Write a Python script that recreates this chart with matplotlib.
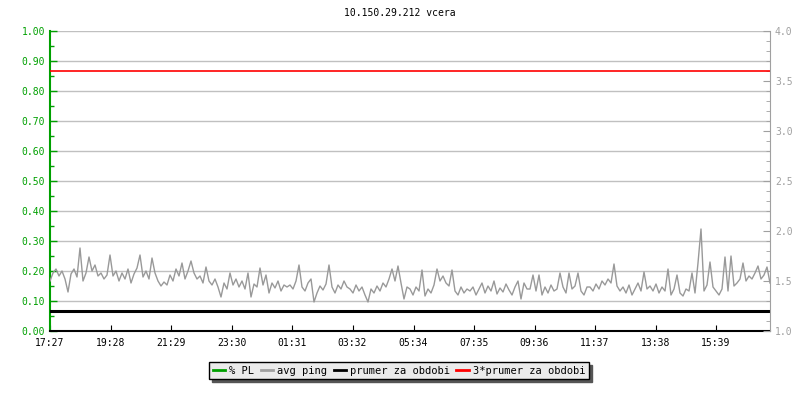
import matplotlib
matplotlib.use('Agg')
import matplotlib.pyplot as plt
from matplotlib.ticker import MultipleLocator, FuncFormatter

# avg ping, every ~6 min (right axis units)
ping = [
    1.50, 1.58, 1.62, 1.55, 1.60, 1.52, 1.39, 1.57, 1.62, 1.54, 1.83, 1.50, 1.58, 1.74, 1.60, 1.66, 1.55, 1.58, 1.52, 1.56,
    1.76, 1.55, 1.60, 1.50, 1.58, 1.52, 1.62, 1.48, 1.57, 1.63, 1.76, 1.54, 1.60, 1.52, 1.73, 1.58, 1.50, 1.45, 1.49, 1.46,
    1.56, 1.50, 1.62, 1.55, 1.68, 1.52, 1.60, 1.70, 1.58, 1.52, 1.55, 1.48, 1.64, 1.50, 1.46, 1.52, 1.44, 1.34, 1.48, 1.42,
    1.58, 1.46, 1.52, 1.44, 1.50, 1.42, 1.58, 1.34, 1.47, 1.44, 1.63, 1.46, 1.56, 1.38, 1.48, 1.43, 1.50, 1.40, 1.46, 1.44,
    1.46, 1.42, 1.50, 1.66, 1.44, 1.40, 1.48, 1.52, 1.29, 1.38, 1.45, 1.41, 1.47, 1.66, 1.44, 1.38, 1.46, 1.42, 1.50, 1.44,
    1.42, 1.38, 1.46, 1.40, 1.44, 1.36, 1.29, 1.42, 1.38, 1.45, 1.40, 1.48, 1.44, 1.52, 1.62, 1.50, 1.65, 1.48, 1.32, 1.44,
    1.42, 1.36, 1.44, 1.40, 1.61, 1.35, 1.42, 1.38, 1.46, 1.62, 1.50, 1.55, 1.48, 1.45, 1.61, 1.40, 1.36, 1.44, 1.38, 1.42,
    1.40, 1.44, 1.36, 1.42, 1.48, 1.38, 1.45, 1.40, 1.50, 1.37, 1.43, 1.39, 1.47, 1.41, 1.36, 1.44, 1.50, 1.32, 1.48, 1.42,
    1.42, 1.56, 1.40, 1.56, 1.36, 1.44, 1.38, 1.46, 1.40, 1.42, 1.58, 1.44, 1.38, 1.58, 1.42, 1.45, 1.58, 1.40, 1.36, 1.44,
    1.44, 1.40, 1.47, 1.42, 1.50, 1.46, 1.52, 1.48, 1.67, 1.45, 1.40, 1.44, 1.38, 1.46, 1.36, 1.42, 1.48, 1.40, 1.59, 1.42,
    1.45, 1.40, 1.47, 1.38, 1.44, 1.40, 1.62, 1.36, 1.42, 1.56, 1.38, 1.35, 1.42, 1.40, 1.58, 1.38, 1.68, 2.02, 1.40, 1.46,
    1.69, 1.44, 1.40, 1.36, 1.42, 1.74, 1.40, 1.75, 1.45, 1.48, 1.52, 1.68, 1.50, 1.55, 1.52, 1.58, 1.65, 1.52, 1.56, 1.64,
    1.48,
]
step_min = 6
mean_ping = 1.2
pl = [0.0] * len(ping)

start_label = '17:27'
tick_labels = ['17:27', '19:28', '21:29', '23:30', '01:31', '03:32',
               '05:34', '07:35', '09:36', '11:37', '13:38', '15:39']


def minutes_from_start(lbl):
    h, m = map(int, lbl.split(':'))
    h0, m0 = map(int, start_label.split(':'))
    return ((h * 60 + m) - (h0 * 60 + m0)) % 1440


green = '#00a000'
gray = '#a0a0a0'
font = 'DejaVu Sans Mono'
plt.rcParams['font.family'] = font
plt.rcParams['font.size'] = 7

fig = plt.figure(figsize=(8, 4), dpi=100)
ax = fig.add_axes([0.0625, 0.1725, 0.9, 0.75])
ax2 = ax.twinx()

t = [i * step_min for i in range(len(ping))]

l_pl, = ax.plot(t, pl, color=green, lw=1, zorder=1)
ax.set_ylim(0, 1)
ax.set_xlim(0, 1440)
ax.yaxis.set_major_locator(MultipleLocator(0.1))
ax.yaxis.set_minor_locator(MultipleLocator(0.05))
ax.yaxis.set_major_formatter(FuncFormatter(lambda v, p: '%.2f' % v))
ax.grid(axis='y', color='#c0c0c0', lw=1)
ax.set_axisbelow(True)
ax.tick_params(axis='y', which='major', direction='in', length=5, color=green, labelcolor=green, width=1)
ax.tick_params(axis='y', which='minor', direction='in', length=3, color=green, width=1)
ax.tick_params(axis='x', direction='in', length=4, color='black', labelcolor='black', pad=5)
ax.set_xticks([minutes_from_start(l) for l in tick_labels])
ax.set_xticklabels(tick_labels)
ax.spines['left'].set_color(green)
ax.spines['left'].set_linewidth(1.5)
ax.spines['bottom'].set_color('black')
ax.spines['bottom'].set_linewidth(1.5)
ax.spines['top'].set_visible(False)
ax.spines['right'].set_visible(False)

l_ping, = ax2.plot(t, ping, color='#999999', lw=1)
l_mean, = ax2.plot([0, 1440], [mean_ping, mean_ping], color='black', lw=2.2)
l_3mean, = ax2.plot([0, 1440], [3 * mean_ping, 3 * mean_ping], color='red', lw=1.2)
ax2.set_ylim(1, 4)
ax2.yaxis.set_major_locator(MultipleLocator(0.5))
ax2.yaxis.set_minor_locator(MultipleLocator(0.1))
ax2.yaxis.set_major_formatter(FuncFormatter(lambda v, p: '%.1f' % v))
ax2.tick_params(axis='y', which='major', direction='in', length=5, color=gray, labelcolor=gray)
ax2.tick_params(axis='y', which='minor', direction='in', length=3, color=gray)
for s in ['left', 'top', 'bottom']:
    ax2.spines[s].set_visible(False)
ax2.spines['right'].set_color(gray)

fig.text(0.5, 0.968, '10.150.29.212 vcera', ha='center', va='center', fontsize=7)

leg = fig.legend([l_pl, l_ping, l_mean, l_3mean],
                 ['% PL', 'avg ping', 'prumer za obdobi', '3*prumer za obdobi'],
                 loc='center', bbox_to_anchor=(0.499, 0.073), ncol=4,
                 frameon=True, fancybox=False, shadow={'color': '#555555', 'alpha': 1},
                 handlelength=1.2, handletextpad=0.4, columnspacing=0.6,
                 borderpad=0.35, fontsize=7.5)
leg.get_frame().set_facecolor('#ebebeb')
leg.get_frame().set_edgecolor('black')
leg.get_frame().set_alpha(1)
for h in leg.legend_handles:
    h.set_linewidth(2)
leg.legend_handles[1].set_color(gray)

fig.savefig('out.png', dpi=100)
